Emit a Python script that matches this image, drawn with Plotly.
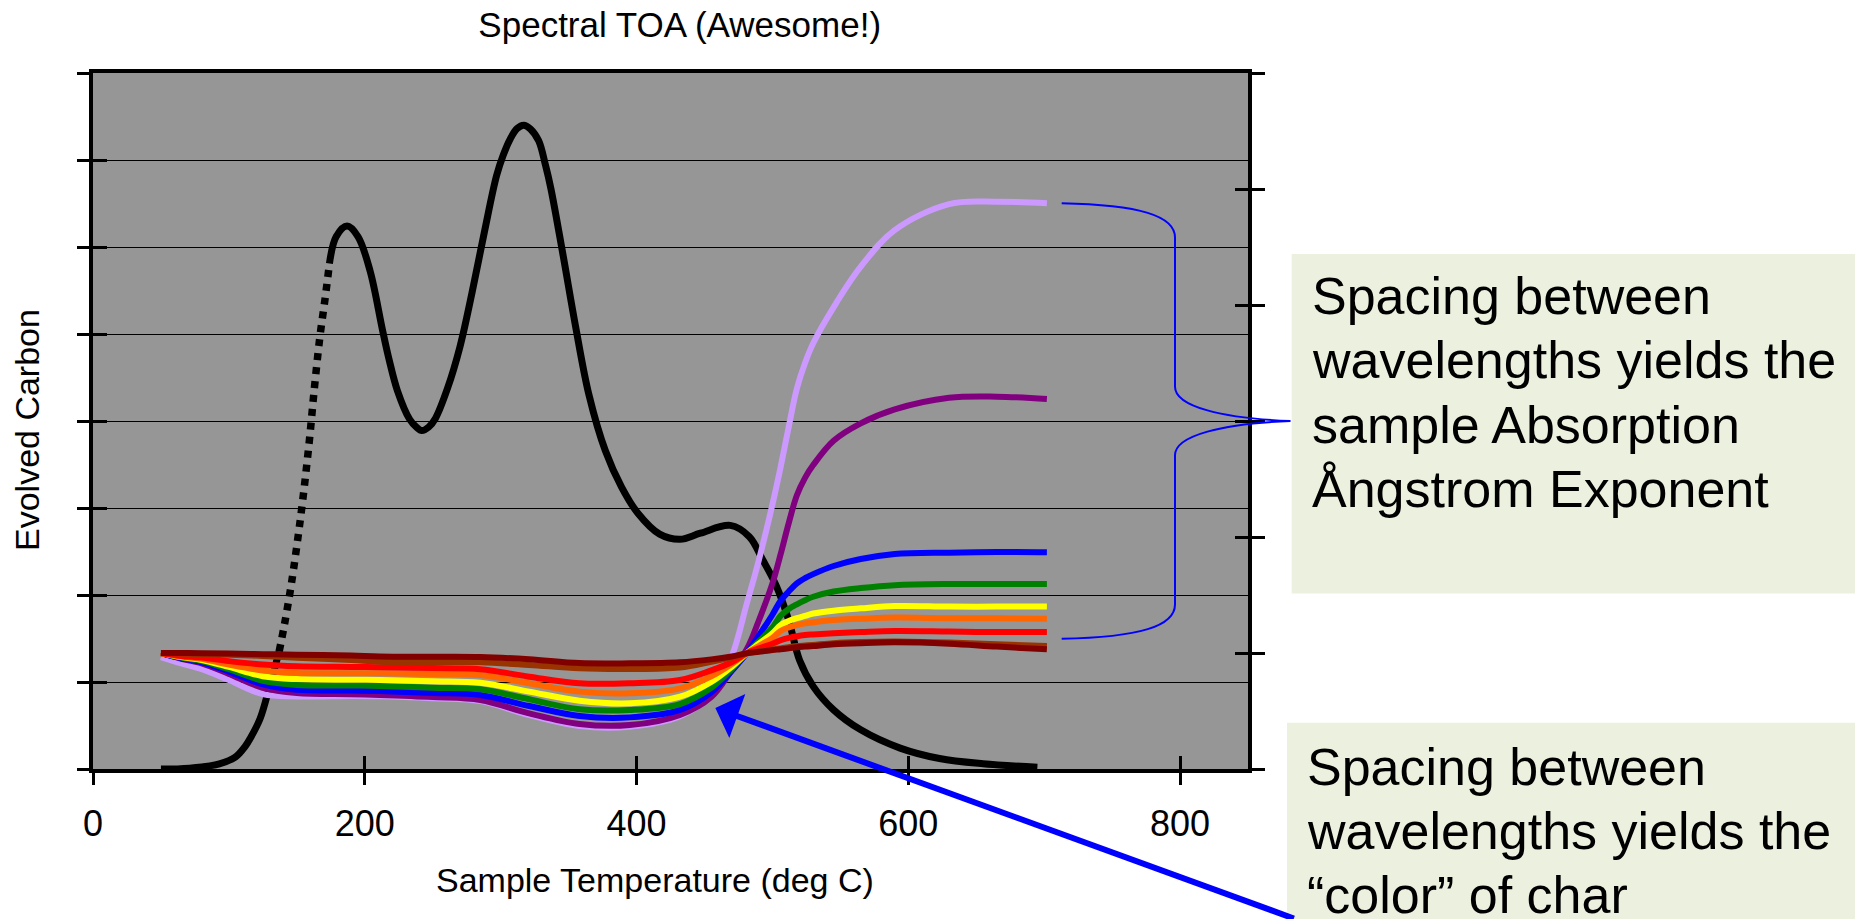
import plotly.graph_objects as go

# ---- Evolved carbon (FID) signal vs. sample temperature, left axis ----
fid_temp = [50, 71, 93, 105, 112, 116, 123, 130, 137, 141, 146, 153, 159, 163, 167, 171, 174,
            179, 187, 195, 204, 213, 218, 224, 233, 238, 242, 247, 252, 261, 270, 279, 288, 297,
            302, 307, 312, 317, 322, 328, 333, 337, 346, 355, 365, 377, 389, 401, 417, 432, 447,
            469, 483, 493, 503, 512, 520, 530, 545, 565, 594, 623, 655, 695]
fid_signal = [0.0, 0.01, 0.06, 0.14, 0.26, 0.36, 0.58, 0.95, 1.35, 1.67, 2.13, 2.92, 3.74, 4.39,
              4.97, 5.43, 5.81, 6.12, 6.24, 6.12, 5.72, 5.05, 4.70, 4.35, 4.02, 3.93, 3.89, 3.93,
              4.03, 4.38, 4.85, 5.48, 6.17, 6.82, 7.06, 7.24, 7.36, 7.40, 7.355, 7.22, 6.94, 6.67,
              5.90, 5.10, 4.30, 3.66, 3.24, 2.94, 2.70, 2.64, 2.71, 2.80, 2.67, 2.40, 2.10, 1.71,
              1.25, 0.95, 0.68, 0.45, 0.24, 0.12, 0.06, 0.02]
# the fast-rising part of the first peak is sparsely sampled (drawn dotted)
sparse_start, sparse_end = 8, 16

# ---- Spectral transmittance per wavelength, right axis ----
ch_temp = [50, 65, 80, 100, 125, 150, 190, 211, 250, 285, 321, 358, 395, 432, 455, 470, 481,
           490, 500, 506, 512, 518, 524, 530, 545, 565, 590, 630, 665, 702]
lavender = [0.965, 0.91, 0.86, 0.767, 0.645, 0.625, 0.63, 0.628, 0.61, 0.585, 0.465, 0.37, 0.365,
            0.455, 0.64, 0.97, 1.42, 1.80, 2.28, 2.60, 2.95, 3.28, 3.50, 3.67, 3.98, 4.33, 4.645,
            4.87, 4.89, 4.877]
purple = [1.00, 0.95, 0.91, 0.82, 0.70, 0.655, 0.645, 0.638, 0.62, 0.595, 0.48, 0.388, 0.379,
          0.466, 0.62, 0.85, 1.03, 1.28, 1.60, 1.85, 2.12, 2.36, 2.51, 2.62, 2.83, 2.98, 3.10,
          3.20, 3.21, 3.19]
blue = [1.00, 0.955, 0.92, 0.84, 0.73, 0.683, 0.676, 0.672, 0.655, 0.638, 0.543, 0.457, 0.445,
        0.509, 0.66, 0.845, 0.997, 1.15, 1.33, 1.45, 1.53, 1.60, 1.645, 1.68, 1.75, 1.81, 1.853,
        1.865, 1.87, 1.868]
green = [1.00, 0.96, 0.93, 0.86, 0.76, 0.725, 0.72, 0.716, 0.70, 0.687, 0.601, 0.515, 0.509,
         0.56, 0.70, 0.86, 0.997, 1.10, 1.22, 1.32, 1.38, 1.42, 1.455, 1.485, 1.53, 1.56, 1.585,
         1.595, 1.595, 1.595]
yellow = [1.00, 0.965, 0.94, 0.88, 0.80, 0.775, 0.77, 0.767, 0.757, 0.744, 0.667, 0.589, 0.566,
          0.623, 0.75, 0.88, 0.997, 1.08, 1.17, 1.24, 1.275, 1.30, 1.32, 1.34, 1.365, 1.385,
          1.405, 1.40, 1.40, 1.40]
orange = [1.00, 0.97, 0.95, 0.90, 0.85, 0.828, 0.826, 0.825, 0.818, 0.81, 0.739, 0.667, 0.652,
          0.695, 0.80, 0.905, 0.997, 1.06, 1.13, 1.19, 1.22, 1.24, 1.255, 1.265, 1.285, 1.295,
          1.305, 1.30, 1.30, 1.296]
red = [1.00, 0.975, 0.96, 0.93, 0.90, 0.885, 0.88, 0.877, 0.87, 0.86, 0.796, 0.739, 0.739,
       0.767, 0.85, 0.92, 0.997, 1.04, 1.08, 1.11, 1.13, 1.145, 1.155, 1.16, 1.17, 1.18, 1.19,
       1.185, 1.18, 1.18]
brown = [1.00, 0.995, 0.99, 0.985, 0.975, 0.96, 0.94, 0.925, 0.922, 0.92, 0.897, 0.868, 0.862,
         0.875, 0.925, 0.96, 0.997, 1.015, 1.03, 1.04, 1.05, 1.06, 1.065, 1.07, 1.085, 1.095,
         1.10, 1.09, 1.075, 1.06]
maroon = [1.00, 1.00, 0.997, 0.995, 0.99, 0.985, 0.978, 0.97, 0.968, 0.966, 0.946, 0.913, 0.911,
          0.92, 0.945, 0.97, 0.997, 1.01, 1.025, 1.032, 1.04, 1.05, 1.055, 1.06, 1.075, 1.085,
          1.092, 1.08, 1.055, 1.032]

channels = [
    ("lavender", lavender, "#CC99FF"),
    ("purple", purple, "#800080"),
    ("blue", blue, "#0000FF"),
    ("green", green, "#008000"),
    ("yellow", yellow, "#FFFF00"),
    ("orange", orange, "#FF6600"),
    ("red", red, "#FF0000"),
    ("brown", brown, "#993300"),
    ("maroon", maroon, "#800000"),
]

x_ticks = [0, 200, 400, 600, 800]
x_range = [0, 850]
left_range = [0, 8]
right_range = [0, 6]

FONT = "Liberation Sans, Arial, sans-serif"
BLUE = "#0000FF"
BOX_FILL = "#EBF1DE"

fig = go.Figure()

# Evolved carbon: solid / dotted / solid
black_segments = [
    (0, sparse_start + 1, "solid", 7),
    (sparse_start, sparse_end + 1, "7px,7px", 7.5),
    (sparse_end, len(fid_temp), "solid", 7),
]
for i0, i1, dash, w in black_segments:
    fig.add_trace(go.Scatter(
        x=fid_temp[i0:i1], y=fid_signal[i0:i1], mode="lines",
        line=dict(color="black", width=w, dash=dash, shape="spline", smoothing=1.0),
        xaxis="x", yaxis="y", hoverinfo="skip", showlegend=False))

for name, vals, color in channels:
    fig.add_trace(go.Scatter(
        x=ch_temp, y=vals, mode="lines", name=name,
        line=dict(color=color, width=6, shape="spline", smoothing=1.0),
        xaxis="x", yaxis="y2", showlegend=False))

# empty traces that bring up the overlay axes carrying the inner tick marks
fig.add_trace(go.Scatter(x=[], y=[], xaxis="x2", yaxis="y3", showlegend=False))
fig.add_trace(go.Scatter(x=[], y=[], xaxis="x2", yaxis="y4", showlegend=False))

# plot area in pixels
L, R, T, B = 93, 607, 73, 150
W, H = 1855, 919
pw, ph = W - L - R, H - T - B


def px_x(px):
    return (px - L) / pw


def px_y(py):
    return (H - B - py) / ph


# curly brace spanning the long-wavelength end values (right axis units)
top = lavender[-1]
mid = 3.0
bot = 2 * mid - top
x0, xa, xv, xb, xt = px_x(1061.7), px_x(1140), px_x(1175), px_x(1223), px_x(1290.5)
r = 0.296
brace = (
    f"M{x0},{top} C{xa},{top - 0.013} {xv},{top - 0.11} {xv},{top - r} "
    f"L{xv},{mid + r} C{xv},{mid + 0.123} {xb},{mid + 0.023} {xt},{mid} "
    f"C{xb},{mid - 0.023} {xv},{mid - 0.123} {xv},{mid - r} "
    f"L{xv},{bot + r} C{xv},{bot + 0.11} {xa},{bot + 0.013} {x0},{bot}"
)

shapes = [
    dict(type="rect", xref="paper", yref="paper", x0=px_x(1291.7), x1=px_x(1870),
         y0=px_y(593.5), y1=px_y(254), fillcolor=BOX_FILL, line=dict(width=0), layer="above"),
    dict(type="rect", xref="paper", yref="paper", x0=px_x(1287), x1=px_x(1870),
         y0=px_y(935), y1=px_y(722.8), fillcolor=BOX_FILL, line=dict(width=0), layer="above"),
    dict(type="path", xref="paper", yref="y2", path=brace,
         line=dict(color=BLUE, width=2), layer="above"),
]

box1_lines = ["Spacing between", "wavelengths yields the", "sample Absorption",
              "\u00c5ngstrom Exponent"]
box2_lines = ["Spacing between", "wavelengths yields the", "\u201ccolor\u201d of char"]

annotations = []
for i, t in enumerate(box1_lines):
    annotations.append(dict(
        text=t, xref="paper", yref="paper", x=px_x(1311), y=px_y(296 + 64.3 * i),
        xanchor="left", yanchor="middle", showarrow=False, borderpad=0,
        font=dict(family=FONT, size=52, color="black")))
for i, t in enumerate(box2_lines):
    annotations.append(dict(
        text=t, xref="paper", yref="paper", x=px_x(1305.5), y=px_y(767 + 63.8 * i),
        xanchor="left", yanchor="middle", showarrow=False, borderpad=0,
        font=dict(family=FONT, size=52, color="black")))

# axis titles
annotations.append(dict(
    text="Sample Temperature (deg C)", xref="paper", yref="paper",
    x=px_x(655.4), y=px_y(880), xanchor="center", yanchor="middle", showarrow=False,
    font=dict(family=FONT, size=34, color="black")))
annotations.append(dict(
    text="Evolved Carbon", xref="paper", yref="paper", textangle=-90,
    x=px_x(27), y=px_y(430), xanchor="center", yanchor="middle", showarrow=False,
    font=dict(family=FONT, size=34, color="black")))

# arrow pointing at the low-temperature spread of the wavelengths
annotations.append(dict(
    text="", x=458, y=0.70, xref="x", yref="y", ax=580, ay=222,
    showarrow=True, arrowhead=1, arrowsize=1.3, arrowwidth=6, arrowcolor=BLUE, standoff=0))

tick_common = dict(tickcolor="black", tickwidth=3)

fig.update_layout(
    width=W, height=H, autosize=False,
    margin=dict(l=L, r=R, t=T, b=B, pad=0),
    paper_bgcolor="white", plot_bgcolor="#969696",
    showlegend=False,
    title=dict(text="Spectral TOA (Awesome!)", xref="container", x=679.7 / W,
               xanchor="center", y=1 - 24.6 / H, yanchor="middle", yref="container",
               font=dict(family=FONT, size=35, color="black")),
    xaxis=dict(range=x_range, tickvals=x_ticks, ticks="outside", ticklen=12,
               showline=True, linewidth=4, linecolor="black", mirror=True,
               showgrid=False, zeroline=False, ticklabelstandoff=8,
               tickfont=dict(family=FONT, size=36, color="black"), **tick_common),
    xaxis2=dict(range=x_range, tickvals=x_ticks, overlaying="x", anchor="y", side="bottom",
                ticks="inside", ticklen=13, showticklabels=False, showline=False,
                showgrid=False, zeroline=False, **tick_common),
    yaxis=dict(range=left_range, dtick=1, ticks="outside", ticklen=12, showticklabels=False,
               showline=True, linewidth=4, linecolor="black", showgrid=True,
               gridcolor="black", gridwidth=1, zeroline=False, **tick_common),
    yaxis2=dict(range=right_range, dtick=1, overlaying="y", side="right", anchor="x",
                ticks="outside", ticklen=13, showticklabels=False, showline=True,
                linewidth=4, linecolor="black", showgrid=False, zeroline=False,
                **tick_common),
    yaxis3=dict(range=left_range, dtick=1, overlaying="y", side="left", anchor="x",
                ticks="inside", ticklen=14, showticklabels=False, showline=False,
                showgrid=False, zeroline=False, **tick_common),
    yaxis4=dict(range=right_range, dtick=1, overlaying="y", side="right", anchor="x",
                ticks="inside", ticklen=13, showticklabels=False, showline=False,
                showgrid=False, zeroline=False, **tick_common),
    shapes=shapes,
    annotations=annotations,
)

fig.write_html("out.html")
